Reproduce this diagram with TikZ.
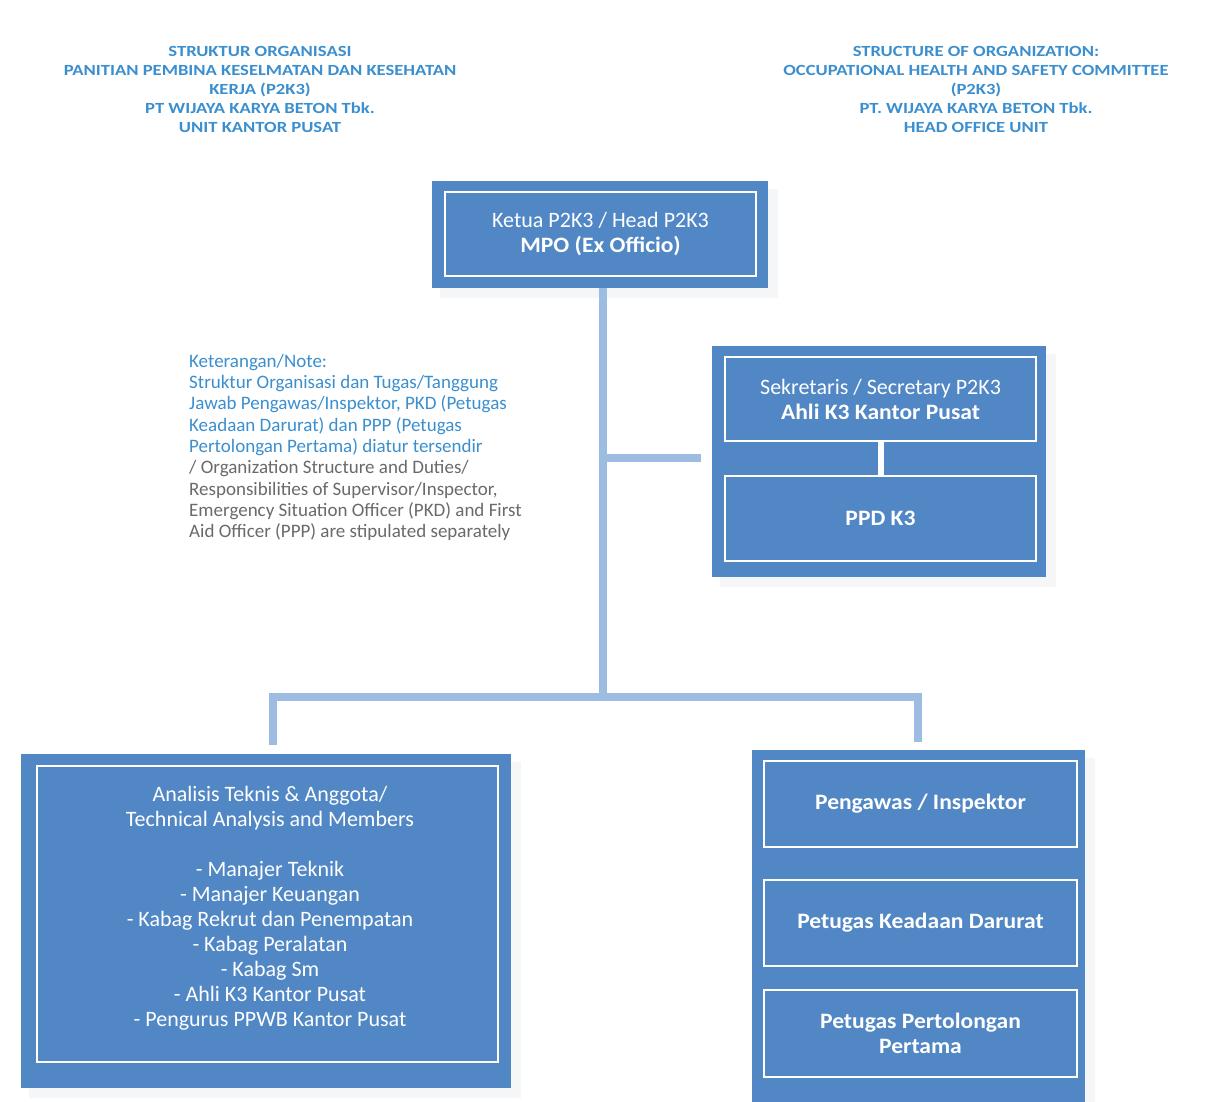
\documentclass[tikz,border=0pt]{standalone}
\usepackage{fontspec}
\setmainfont{Carlito}[BoldFeatures={FakeStretch=1.07}]
\newfontfamily\headfont{Carlito}[FakeStretch=1.2]
\definecolor{boxblue}{HTML}{5187C5}
\definecolor{linkblue}{HTML}{9CBDE1}
\definecolor{headblue}{HTML}{3B8FCF}
\definecolor{notegray}{HTML}{6A6A6A}
\definecolor{shadowgray}{HTML}{F5F6F7}
\begin{document}
\begin{tikzpicture}[x=1pt,y=-1pt,
  outerbox/.style={fill=boxblue, draw=none, inner sep=0pt},
  innerbox/.style={draw=white, line width=2pt, fill=none, inner sep=0pt, text=white, align=center,
    font=\fontsize{22}{25}\selectfont},
  link/.style={draw=linkblue, line width=8pt},
  headtext/.style={text=headblue, align=center, font=\headfont\fontsize{15.5}{19}\selectfont\bfseries},
  notetext/.style={align=left, anchor=north west, inner sep=0pt, font=\fontsize{19}{21.3}\selectfont}
]
\useasboundingbox (0,0) rectangle (1210,1102);
\fill[white] (0,0) rectangle (1210,1102);

% headers
\node[headtext] (headL) at (260,89) {STRUKTUR ORGANISASI\\PANITIAN PEMBINA KESELMATAN DAN KESEHATAN\\KERJA (P2K3)\\PT WIJAYA KARYA BETON Tbk.\\UNIT KANTOR PUSAT};
\node[headtext] (headR) at (976,89) {STRUCTURE OF ORGANIZATION:\\OCCUPATIONAL HEALTH AND SAFETY COMMITTEE\\(P2K3)\\PT. WIJAYA KARYA BETON Tbk.\\HEAD OFFICE UNIT};

% shadows
\fill[shadowgray] (440,189) rectangle (778,298);
\fill[shadowgray] (720,354) rectangle (1056,587);
\fill[shadowgray] (29,762) rectangle (521,1098);
\fill[shadowgray] (760,758) rectangle (1095,1102);

% outer boxes
\node[outerbox, minimum width=336pt, minimum height=107pt] (top) at (600,234.5) {};
\node[outerbox, minimum width=334pt, minimum height=231pt] (sec) at (879,461.5) {};
\node[outerbox, minimum width=490pt, minimum height=334pt] (left) at (266,921) {};
\node[outerbox, minimum width=333pt, minimum height=352pt] (right) at (918.5,926) {};

% inner boxes
\node[innerbox, minimum width=311pt, minimum height=84pt] (ketua) at (600.5,234) {Ketua P2K3 / Head P2K3\\\textbf{MPO (Ex Officio)}};
\node[innerbox, minimum width=311pt, minimum height=84pt] (sekre) at (880.5,399) {Sekretaris / Secretary P2K3\\\textbf{Ahli K3 Kantor Pusat}};
\node[innerbox, minimum width=311pt, minimum height=85pt] (ppd) at (880.5,518.5) {\textbf{PPD K3}};
\draw[white, line width=6pt] (sekre.south) -- (ppd.north);

\node[innerbox, minimum width=461pt, minimum height=296pt] (anal) at (267.5,914) {};
\node[text=white, align=center, font=\fontsize{22}{25}\selectfont] (analtext) at (270,908)
  {Analisis Teknis \& Anggota/\\Technical Analysis and Members\\[25pt]
   - Manajer Teknik\\- Manajer Keuangan\\- Kabag Rekrut dan Penempatan\\- Kabag Peralatan\\- Kabag Sm\\- Ahli K3 Kantor Pusat\\- Pengurus PPWB Kantor Pusat};

\node[innerbox, minimum width=313pt, minimum height=86pt] (peng) at (920.5,804) {\textbf{Pengawas / Inspektor}};
\node[innerbox, minimum width=313pt, minimum height=86pt] (pkd) at (920.5,923) {\textbf{Petugas Keadaan Darurat}};
\node[innerbox, minimum width=313pt, minimum height=87pt] (ppp) at (920.5,1033.5) {\textbf{Petugas Pertolongan}\\\textbf{Pertama}};

% note
\node[notetext] (note) at (189,354) {\textcolor{headblue}{Keterangan/Note:}\\
\textcolor{headblue}{Struktur Organisasi dan Tugas/Tanggung}\\
\textcolor{headblue}{Jawab Pengawas/Inspektor, PKD (Petugas}\\
\textcolor{headblue}{Keadaan Darurat) dan PPP (Petugas}\\
\textcolor{headblue}{Pertolongan Pertama) diatur tersendir}\\
\textcolor{notegray}{/ Organization Structure and Duties/}\\
\textcolor{notegray}{Responsibilities of Supervisor/Inspector,}\\
\textcolor{notegray}{Emergency Situation Officer (PKD) and First}\\
\textcolor{notegray}{Aid Officer (PPP) are stipulated separately}};

% connectors
\coordinate (j1) at (603,458);
\coordinate (e1) at (701,458);
\coordinate (j2) at (603,697);
\coordinate (bl) at (273,697);
\coordinate (br) at (918,697);
\coordinate (dl) at (273,741);
\coordinate (dr) at (918,738);
\draw[link] (top.south -| j1) -- (j2);
\draw[link] (j1) -- (e1);
\draw[link, line cap=rect] (dl) -- (bl) -- (br) -- (dr);
\end{tikzpicture}
\end{document}
